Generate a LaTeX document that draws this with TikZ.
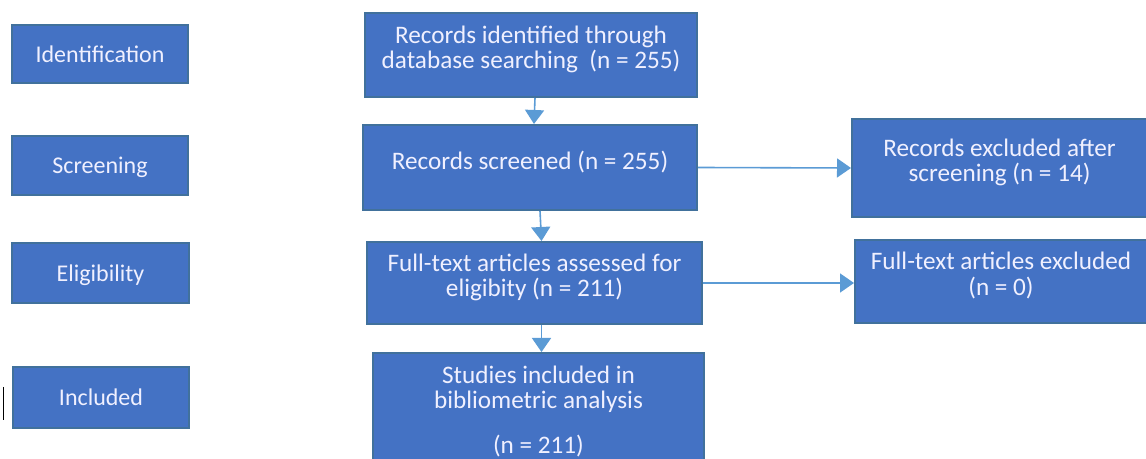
\documentclass[tikz,border=0pt]{standalone}
\usepackage{fontspec}
\setmainfont{Carlito}
\usetikzlibrary{arrows.meta}
\definecolor{boxfill}{HTML}{4472C4}
\definecolor{boxline}{HTML}{41719C}
\definecolor{arrowblue}{HTML}{5B9BD5}
% text of a flow box sits a little above the middle
\newcommand{\boxtext}[1]{\raisebox{2pt}[\height][\depth]{\begin{tabular}{@{}c@{}}#1\end{tabular}}}
\begin{document}
\begin{tikzpicture}[x=0.5pt, y=-0.5pt, font=\fontsize{12}{12}\selectfont,
	stage/.style={draw=boxline, fill=boxfill, line width=1pt, text=white!94!blue, inner sep=0pt, minimum width=88pt, minimum height=30pt},
	flowbox/.style={stage, font=\fontsize{12.6}{12.2}\selectfont},
	link/.style={draw=arrowblue, line width=0.8pt, -{Triangle[length=7pt,width=9.5pt]}}]
	\useasboundingbox (0,0) rectangle (1146,459);
	%stages
	\node[stage, text depth=0pt, minimum height=29pt] (ident) at (100,54) {Identification};
	\node[stage, text depth=0pt, minimum height=29.5pt] (screen) at (100,165.5) {Screening};
	\node[stage, text depth=0pt, minimum width=88.5pt] (elig) at (100.5,273) {Eligibility};
	\node[stage, text depth=0pt, minimum height=30.5pt] (incl) at (101,397.5) {Included};
	\draw[line width=0.6pt] (3.5,387) -- (3.5,420);
	%flow
	\node[flowbox, minimum width=166pt, minimum height=42pt] (recid) at (531,55)
		{\boxtext{Records identified through\\database searching~ (n = 255)}};
	\node[flowbox, minimum width=167pt, minimum height=42.5pt] (screened) at (530,167.5)
		{\boxtext{Records screened (n = 255)}};
	\node[flowbox, minimum width=167.5pt, minimum height=41pt] (fulltext) at (534.5,283)
		{\boxtext{Full-text articles assessed for\\eligibity (n = 211)}};
	\node[flowbox, minimum width=165.5pt, minimum height=64.5pt] (studies) at (538.5,417.5)
		{\boxtext{Studies included in\\bibliometric analysis\\[10pt](n = 211)}};
	%excluded
	\node[flowbox, minimum width=147.5pt, minimum height=49pt] (excl) at (999.5,168)
		{\boxtext{Records excluded after\\screening (n = 14)}};
	\node[flowbox, minimum width=146pt, minimum height=41.5pt] (ftexcl) at (1001,281.5)
		{\boxtext{Full-text articles excluded\\(n = 0)}};
	%arrows
	\draw[link] ([xshift=2pt]recid.south) -- ([xshift=2pt]screened.north);
	\draw[link] ([xshift=5pt]screened.south) -- ([xshift=3.5pt]fulltext.north);
	\draw[link] ([xshift=3.5pt]fulltext.south) -- ([xshift=1.5pt]studies.north);
	\draw[link] (screened.east) -- (excl.west);
	\draw[link] (fulltext.east) -- (fulltext.east -| ftexcl.west);
\end{tikzpicture}
\end{document}
